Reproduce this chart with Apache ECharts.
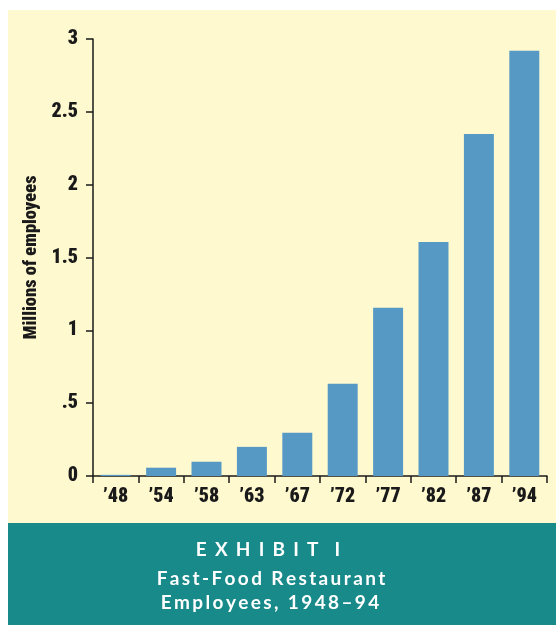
<!DOCTYPE html>
<html>
<head>
<meta charset="utf-8">
<script src="https://cdn.jsdelivr.net/npm/echarts@6/dist/echarts.min.js"></script>
<style>
  html, body { margin: 0; padding: 0; background: #ffffff; }
  #chart { width: 556px; height: 625px; }
</style>
</head>
<body>
<div id="chart"></div>
<script>
// Fast-food restaurant employees, millions
const years = ["\u201948", "\u201954", "\u201958", "\u201963", "\u201967", "\u201972", "\u201977", "\u201982", "\u201987", "\u201994"];
const employees = [0.008, 0.057, 0.098, 0.2, 0.297, 0.634, 1.155, 1.606, 2.347, 2.92];
const yTickValues = [0, 0.5, 1, 1.5, 2, 2.5, 3];
const yTickLabels = ["0", ".5", "1", "1.5", "2", "2.5", "3"];
const exhibitWord = "EXHIBIT";
const exhibitNumber = "I";
const subtitleLines = ["Fast-Food Restaurant", "Employees, 1948\u201394"];

const narrow = "Roboto, 'Open Sans', sans-serif";
const banner = "Lato, 'Open Sans', sans-serif";
const ink = "#1a1a1a";
// spread letters of the banner lines with thin spaces
const spaced = (s, gap) => s.split('').join(gap);

const axisFont = { color: ink, fontFamily: narrow, fontStyle: 'condensed', fontWeight: 900 };

const chart = echarts.init(document.getElementById('chart'), null, { renderer: 'canvas' });

chart.setOption({
  backgroundColor: '#ffffff',
  animation: false,
  graphic: [
    { type: 'rect', z: -10, shape: { x: 8, y: 10, width: 548, height: 615 }, style: { fill: '#fef9cf' } },
    { type: 'rect', z: -5, shape: { x: 8, y: 523, width: 548, height: 102 }, style: { fill: '#188a8a' } },
    { type: 'text', x: 268, y: 550, style: { text: spaced(exhibitWord, ' \u2009\u200A') + '   \u2009' + exhibitNumber, fill: '#ffffff', font: "bold 19px " + banner, align: 'center', verticalAlign: 'middle' } },
    { type: 'text', x: 271, y: 579, style: { text: spaced(subtitleLines[0], '\u2009'), fill: '#ffffff', font: "bold 19px " + banner, align: 'center', verticalAlign: 'middle' } },
    { type: 'text', x: 270, y: 603, style: { text: spaced(subtitleLines[1], '\u2009'), fill: '#ffffff', font: "bold 19px " + banner, align: 'center', verticalAlign: 'middle' } }
  ],
  grid: { left: 93, right: 9, top: 39, bottom: 149, containLabel: false },
  xAxis: {
    type: 'category',
    data: years,
    boundaryGap: true,
    axisLine: { show: true, lineStyle: { color: ink, width: 1.5 } },
    axisTick: { show: true, length: 7, alignWithLabel: false, lineStyle: { color: ink, width: 1.5 } },
    axisLabel: Object.assign({ fontSize: 20, margin: 11 }, axisFont)
  },
  yAxis: {
    type: 'value',
    min: 0,
    max: 3,
    interval: 0.5,
    name: 'Millions of employees',
    nameLocation: 'middle',
    nameRotate: 90,
    nameGap: 51,
    nameTextStyle: Object.assign({ fontSize: 18.5 }, axisFont),
    axisLine: { show: true, lineStyle: { color: ink, width: 1.5 } },
    axisTick: { show: true, length: 7, lineStyle: { color: ink, width: 1.5 } },
    splitLine: { show: false },
    axisLabel: Object.assign({
      fontSize: 20, margin: 15,
      formatter: function (v) {
        const i = yTickValues.findIndex(t => Math.abs(t - v) < 1e-9);
        return i >= 0 ? yTickLabels[i] : '';
      }
    }, axisFont)
  },
  series: [{
    type: 'bar',
    data: employees,
    barCategoryGap: '34%',
    itemStyle: { color: '#5799c5' }
  }]
});
</script>
</body>
</html>
